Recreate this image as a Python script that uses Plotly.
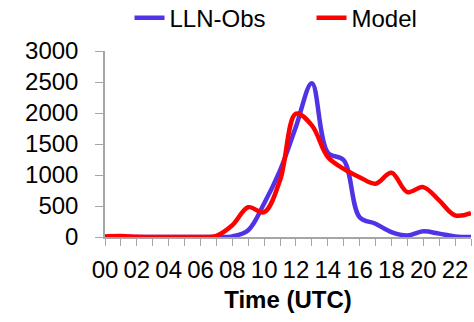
import plotly.graph_objects as go

# Hourly values, 00-23 UTC
hours = list(range(24))
lln_obs = [0, 0, 0, 0, 0, 0, 0, 0, 10, 110, 540, 1075, 1780, 2480,
           1360, 1240, 320, 215, 80, 25, 92, 54, 10, 0]
model = [10, 15, 5, 0, 0, 0, 0, 20, 190, 480, 400, 915, 1990, 1800,
         1290, 1100, 965, 860, 1035, 725, 805, 590, 350, 385]

tick_text = [f"{h:02d}" if h % 2 == 0 else "" for h in hours]
y_ticks = [0, 500, 1000, 1500, 2000, 2500, 3000]

FONT = "Liberation Sans, Arial, sans-serif"
AXIS_GREY = "#A6A6A6"
FS = 24

fig = go.Figure()
fig.add_trace(go.Scatter(
    x=hours, y=lln_obs, name="LLN-Obs", mode="lines",
    line=dict(color="#5232E6", width=4.5, shape="spline", smoothing=1),
    cliponaxis=False,
))
fig.add_trace(go.Scatter(
    x=hours, y=model, name="Model", mode="lines",
    line=dict(color="#FF0000", width=4.5, shape="spline", smoothing=1),
    cliponaxis=False,
))

fig.update_layout(
    width=474, height=322,
    margin=dict(l=105, r=3, t=51, b=85, autoexpand=False),
    paper_bgcolor="white", plot_bgcolor="white",
    font=dict(family=FONT, size=FS, color="black"),
    showlegend=True,
    legend=dict(
        orientation="h", x=0.067, xanchor="left",
        y=0.944, yref="container", yanchor="middle",
        font=dict(size=FS), itemwidth=30, entrywidth=137,
        entrywidthmode="pixels", tracegroupgap=0,
        bgcolor="rgba(0,0,0,0)",
    ),
    xaxis=dict(
        range=[0, 23], tickmode="array", tickvals=hours, ticktext=tick_text,
        showgrid=False, zeroline=False,
        showline=True, linecolor=AXIS_GREY, linewidth=1.5,
        ticks="outside", ticklen=7, tickcolor=AXIS_GREY, tickwidth=1,
        tickangle=0, ticklabelstandoff=3,
        title=dict(text="<b>Time (UTC)</b>", font=dict(size=FS), standoff=10),
    ),
    yaxis=dict(
        range=[0, 3000], tickmode="array", tickvals=y_ticks,
        showgrid=False, zeroline=False,
        showline=True, linecolor=AXIS_GREY, linewidth=1.5,
        ticks="outside", ticklen=8, tickcolor=AXIS_GREY, tickwidth=1,
        ticklabelstandoff=12,
    ),
)

fig.write_html("out.html")
